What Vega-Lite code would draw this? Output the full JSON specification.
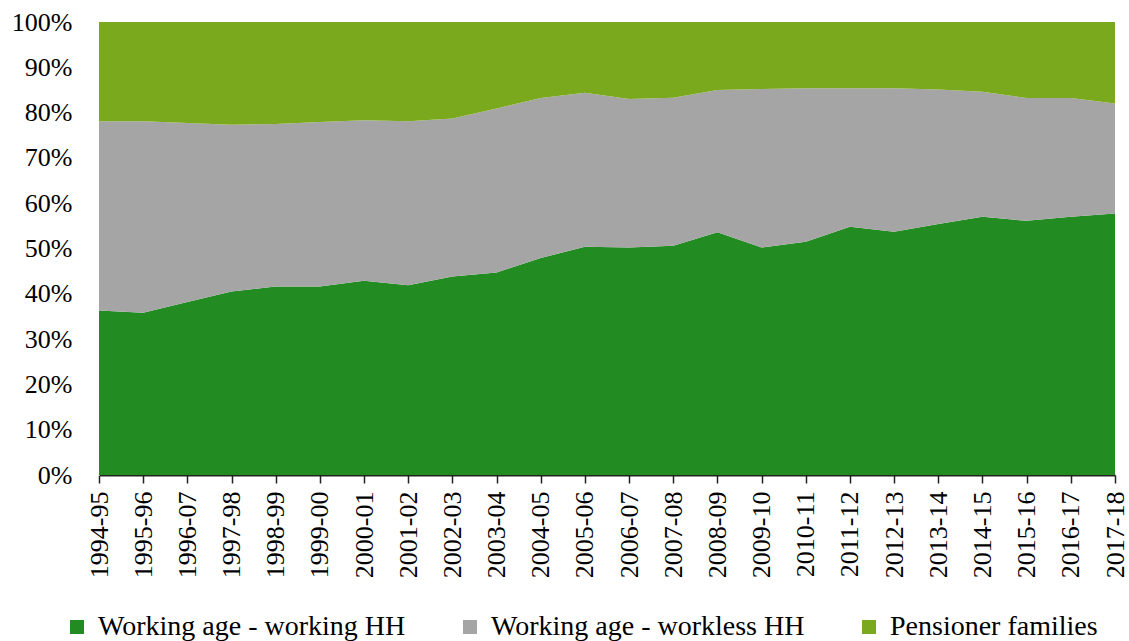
{
  "$schema": "https://vega.github.io/schema/vega-lite/v6.json",
  "width": 1016,
  "height": 453,
  "autosize": {"type": "none"},
  "padding": {"left": 99, "top": 22, "right": 14, "bottom": 166},
  "background": "white",
  "config": {
    "view": {"stroke": null},
    "font": "Liberation Serif, Times New Roman, serif"
  },
  "datasets": {
    "shares": [
      {"year": "1994-95", "g": "Working age - working HH", "k": 1, "v": 36.3},
      {"year": "1995-96", "g": "Working age - working HH", "k": 1, "v": 35.8},
      {"year": "1996-07", "g": "Working age - working HH", "k": 1, "v": 38.2},
      {"year": "1997-98", "g": "Working age - working HH", "k": 1, "v": 40.5},
      {"year": "1998-99", "g": "Working age - working HH", "k": 1, "v": 41.6},
      {"year": "1999-00", "g": "Working age - working HH", "k": 1, "v": 41.6},
      {"year": "2000-01", "g": "Working age - working HH", "k": 1, "v": 42.9},
      {"year": "2001-02", "g": "Working age - working HH", "k": 1, "v": 41.9},
      {"year": "2002-03", "g": "Working age - working HH", "k": 1, "v": 43.8},
      {"year": "2003-04", "g": "Working age - working HH", "k": 1, "v": 44.7},
      {"year": "2004-05", "g": "Working age - working HH", "k": 1, "v": 47.9},
      {"year": "2005-06", "g": "Working age - working HH", "k": 1, "v": 50.4},
      {"year": "2006-07", "g": "Working age - working HH", "k": 1, "v": 50.2},
      {"year": "2007-08", "g": "Working age - working HH", "k": 1, "v": 50.6},
      {"year": "2008-09", "g": "Working age - working HH", "k": 1, "v": 53.6},
      {"year": "2009-10", "g": "Working age - working HH", "k": 1, "v": 50.2},
      {"year": "2010-11", "g": "Working age - working HH", "k": 1, "v": 51.5},
      {"year": "2011-12", "g": "Working age - working HH", "k": 1, "v": 54.8},
      {"year": "2012-13", "g": "Working age - working HH", "k": 1, "v": 53.7},
      {"year": "2013-14", "g": "Working age - working HH", "k": 1, "v": 55.4},
      {"year": "2014-15", "g": "Working age - working HH", "k": 1, "v": 57.0},
      {"year": "2015-16", "g": "Working age - working HH", "k": 1, "v": 56.1},
      {"year": "2016-17", "g": "Working age - working HH", "k": 1, "v": 57.0},
      {"year": "2017-18", "g": "Working age - working HH", "k": 1, "v": 57.7},
      {"year": "1994-95", "g": "Working age - workless HH", "k": 2, "v": 41.8},
      {"year": "1995-96", "g": "Working age - workless HH", "k": 2, "v": 42.3},
      {"year": "1996-07", "g": "Working age - workless HH", "k": 2, "v": 39.5},
      {"year": "1997-98", "g": "Working age - workless HH", "k": 2, "v": 36.8},
      {"year": "1998-99", "g": "Working age - workless HH", "k": 2, "v": 35.9},
      {"year": "1999-00", "g": "Working age - workless HH", "k": 2, "v": 36.3},
      {"year": "2000-01", "g": "Working age - workless HH", "k": 2, "v": 35.4},
      {"year": "2001-02", "g": "Working age - workless HH", "k": 2, "v": 36.2},
      {"year": "2002-03", "g": "Working age - workless HH", "k": 2, "v": 34.9},
      {"year": "2003-04", "g": "Working age - workless HH", "k": 2, "v": 36.2},
      {"year": "2004-05", "g": "Working age - workless HH", "k": 2, "v": 35.3},
      {"year": "2005-06", "g": "Working age - workless HH", "k": 2, "v": 34.0},
      {"year": "2006-07", "g": "Working age - workless HH", "k": 2, "v": 32.8},
      {"year": "2007-08", "g": "Working age - workless HH", "k": 2, "v": 32.7},
      {"year": "2008-09", "g": "Working age - workless HH", "k": 2, "v": 31.4},
      {"year": "2009-10", "g": "Working age - workless HH", "k": 2, "v": 35.0},
      {"year": "2010-11", "g": "Working age - workless HH", "k": 2, "v": 33.9},
      {"year": "2011-12", "g": "Working age - workless HH", "k": 2, "v": 30.6},
      {"year": "2012-13", "g": "Working age - workless HH", "k": 2, "v": 31.7},
      {"year": "2013-14", "g": "Working age - workless HH", "k": 2, "v": 29.7},
      {"year": "2014-15", "g": "Working age - workless HH", "k": 2, "v": 27.6},
      {"year": "2015-16", "g": "Working age - workless HH", "k": 2, "v": 27.1},
      {"year": "2016-17", "g": "Working age - workless HH", "k": 2, "v": 26.2},
      {"year": "2017-18", "g": "Working age - workless HH", "k": 2, "v": 24.3},
      {"year": "1994-95", "g": "Pensioner families", "k": 3, "v": 21.9},
      {"year": "1995-96", "g": "Pensioner families", "k": 3, "v": 21.9},
      {"year": "1996-07", "g": "Pensioner families", "k": 3, "v": 22.3},
      {"year": "1997-98", "g": "Pensioner families", "k": 3, "v": 22.7},
      {"year": "1998-99", "g": "Pensioner families", "k": 3, "v": 22.5},
      {"year": "1999-00", "g": "Pensioner families", "k": 3, "v": 22.1},
      {"year": "2000-01", "g": "Pensioner families", "k": 3, "v": 21.7},
      {"year": "2001-02", "g": "Pensioner families", "k": 3, "v": 21.9},
      {"year": "2002-03", "g": "Pensioner families", "k": 3, "v": 21.3},
      {"year": "2003-04", "g": "Pensioner families", "k": 3, "v": 19.1},
      {"year": "2004-05", "g": "Pensioner families", "k": 3, "v": 16.8},
      {"year": "2005-06", "g": "Pensioner families", "k": 3, "v": 15.6},
      {"year": "2006-07", "g": "Pensioner families", "k": 3, "v": 17.0},
      {"year": "2007-08", "g": "Pensioner families", "k": 3, "v": 16.7},
      {"year": "2008-09", "g": "Pensioner families", "k": 3, "v": 15.0},
      {"year": "2009-10", "g": "Pensioner families", "k": 3, "v": 14.8},
      {"year": "2010-11", "g": "Pensioner families", "k": 3, "v": 14.6},
      {"year": "2011-12", "g": "Pensioner families", "k": 3, "v": 14.6},
      {"year": "2012-13", "g": "Pensioner families", "k": 3, "v": 14.6},
      {"year": "2013-14", "g": "Pensioner families", "k": 3, "v": 14.9},
      {"year": "2014-15", "g": "Pensioner families", "k": 3, "v": 15.4},
      {"year": "2015-16", "g": "Pensioner families", "k": 3, "v": 16.8},
      {"year": "2016-17", "g": "Pensioner families", "k": 3, "v": 16.8},
      {"year": "2017-18", "g": "Pensioner families", "k": 3, "v": 18.0}
    ]
  },
  "data": {"name": "shares"},
  "mark": {"type": "area", "line": false, "interpolate": "linear"},
  "encoding": {
    "x": {
      "field": "year",
      "type": "ordinal",
      "sort": null,
      "scale": {"type": "point", "padding": 0},
      "axis": {
        "title": null,
        "labelAngle": 270,
        "labelAlign": "right",
        "labelBaseline": "middle",
        "labelFontSize": 26,
        "labelColor": "#000000",
        "labelPadding": 8,
        "labelOverlap": false,
        "domainColor": "#222222",
        "domainWidth": 2,
        "tickColor": "#222222",
        "tickSize": 8,
        "tickWidth": 1.5,
        "grid": false
      }
    },
    "y": {
      "field": "v",
      "type": "quantitative",
      "stack": "normalize",
      "scale": {"domain": [0, 1], "nice": false},
      "axis": {
        "title": null,
        "format": ".0%",
        "values": [0, 0.1, 0.2, 0.3, 0.4, 0.5, 0.6, 0.7, 0.8, 0.9, 1],
        "labelFontSize": 26,
        "labelColor": "#000000",
        "labelPadding": 27,
        "ticks": false,
        "grid": false,
        "domain": true,
        "domainColor": "#d9d9d9",
        "domainWidth": 1
      }
    },
    "color": {
      "field": "g",
      "type": "nominal",
      "sort": ["Working age - working HH", "Working age - workless HH", "Pensioner families"],
      "scale": {
        "domain": ["Working age - working HH", "Working age - workless HH", "Pensioner families"],
        "range": ["#228B22", "#A5A5A5", "#7BA91E"]
      },
      "legend": {
        "title": null,
        "orient": "none",
        "direction": "horizontal",
        "legendX": -36,
        "legendY": 591,
        "padding": 0,
        "symbolType": "square",
        "symbolSize": 196,
        "symbolStrokeWidth": 0,
        "symbolOpacity": 1,
        "labelFontSize": 28,
        "labelColor": "#000000",
        "labelOffset": 7,
        "labelLimit": 0,
        "columnPadding": 50
      }
    },
    "order": {"field": "k", "type": "quantitative", "sort": "ascending"}
  }
}
